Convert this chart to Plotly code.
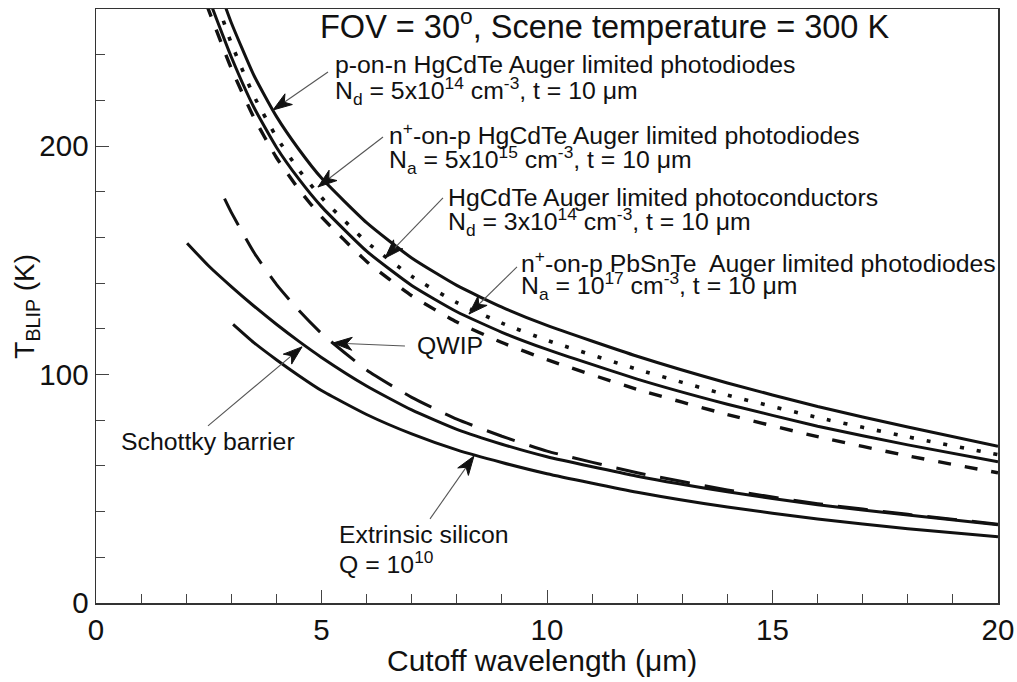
import math
import plotly.graph_objects as go

# ---- data ----
lam_pn = [2.85, 3, 3.5, 4, 4.5, 5, 6, 7, 8, 9, 10, 12, 14, 16, 18, 20]
T_pn = [262, 254, 231, 213, 198.5, 186, 166.5, 151, 139, 129.5, 121.5, 108, 96.3, 86, 77, 68.6]

lam_dot = [2.7, 3, 3.5, 4, 4.5, 5, 6, 7, 8, 9, 10, 12, 14, 16, 18, 20]
T_dot = [262, 245, 222, 204, 189.5, 177.5, 158, 143, 131.5, 122.5, 115, 102.3, 91, 81.2, 72.7, 64.9]

lam_np = [2.55, 3, 3.5, 4, 4.5, 5, 6, 7, 8, 9, 10, 12, 14, 16, 18, 20]
T_np = [262, 239, 217, 199.5, 185.5, 173.5, 154, 139, 127.5, 118.5, 111, 98, 87, 77.4, 69.2, 61.8]

lam_dash = [2.45, 3, 3.5, 4, 4.5, 5, 6, 7, 8, 9, 10, 12, 14, 16, 18, 20]
T_dash = [262, 234, 212.5, 195, 181, 169, 149.5, 134.5, 123, 114, 106.5, 93.5, 82.5, 72.8, 64.4, 57]

lam_qwip = [2.85, 3, 3.5, 4, 4.5, 5, 6, 7, 8, 9, 10, 12, 14, 16, 18, 20]
T_qwip = [177, 171, 153.5, 139.5, 128, 118, 102, 90, 80.5, 73, 66.5, 57, 49.5, 43.5, 38.8, 34.5]

lam_sb = [2.02, 2.5, 3, 3.5, 4, 4.5, 5, 6, 7, 8, 9, 10, 12, 14, 16, 18, 20]
T_sb = [157.5, 147.5, 138.5, 130, 122, 114.5, 107.5, 95, 84.5, 76, 69.5, 64, 55.5, 48.7, 43, 38.5, 34.2]

lam_si = [3.04, 3.5, 4, 4.5, 5, 6, 7, 8, 9, 10, 12, 14, 16, 18, 20]
T_si = [122, 114, 106.5, 99.5, 93, 82.5, 74, 67, 61.5, 56.6, 48.5, 42, 36.8, 32.5, 29]

x_ticks = [0, 5, 10, 15, 20]
y_ticks = [0, 100, 200]

FONT = "Liberation Sans, Arial, Helvetica, sans-serif"
INK = "#111111"

# plot geometry (pixels per data unit) used only for arrow-head shapes
W_PLOT, H_PLOT = 1017 - 96 - 19, 682 - 9 - 79
X_RANGE, Y_RANGE = (0, 20), (0, 260)
SX = W_PLOT / (X_RANGE[1] - X_RANGE[0])
SY = H_PLOT / (Y_RANGE[1] - Y_RANGE[0])

fig = go.Figure()

def curve(x, y, dash, width=3.0):
    fig.add_trace(go.Scatter(
        x=x, y=y, mode="lines",
        line=dict(color=INK, width=width, dash=dash, shape="spline", smoothing=0.5),
        showlegend=False, hoverinfo="skip"))

curve(lam_pn, T_pn, "solid")
curve(lam_dot, T_dot, "4px,13px", 3.6)
curve(lam_np, T_np, "solid")
curve(lam_dash, T_dash, "13px,14px", 3.4)
curve(lam_qwip, T_qwip, "30px,15px", 3.0)
curve(lam_sb, T_sb, "solid")
curve(lam_si, T_si, "solid")

TXT = 24.8
texts = [
    ("FOV = 30<sup>o</sup>, Scene temperature = 300 K", 4.92, 253.5, 32.5),
    ("p-on-n HgCdTe Auger limited photodiodes", 5.255, 235.5, TXT),
    ("N<sub>d</sub> = 5x10<sup>14</sup> cm<sup>-3</sup>, t = 10 \u03bcm", 5.255, 224.1, TXT),
    ("n<sup>+</sup>-on-p HgCdTe Auger limited photodiodes", 6.452, 205.7, TXT),
    ("N<sub>a</sub> = 5x10<sup>15</sup> cm<sup>-3</sup>, t = 10 \u03bcm", 6.452, 193.9, TXT),
    ("HgCdTe Auger limited photoconductors", 7.761, 177.7, TXT),
    ("N<sub>d</sub> = 3x10<sup>14</sup> cm<sup>-3</sup>, t = 10 \u03bcm", 7.761, 166.8, TXT),
    ("n<sup>+</sup>-on-p PbSnTe\u00a0 Auger limited photodiodes", 9.379, 149.3, TXT),
    ("N<sub>a</sub> = 10<sup>17</sup> cm<sup>-3</sup>, t = 10 \u03bcm", 9.379, 138.8, TXT),
    ("QWIP", 7.07, 112.5, TXT),
    ("Schottky barrier", 0.51, 70.5, TXT),
    ("Extrinsic silicon", 5.34, 29.8, TXT),
    ("Q = 10<sup>10</sup>", 5.34, 17.9, TXT),
]
for t, x, y, s in texts:
    fig.add_annotation(text=t, x=x, y=y, xref="x", yref="y", xanchor="left",
                       yanchor="middle", showarrow=False,
                       font=dict(family=FONT, size=s, color=INK))

# arrows: (tip x, tip y, tail x, tail y)
arrows = [
    (3.925, 215.8, 5.144, 232.4),
    (4.922, 182.1, 6.364, 204.0),
    (6.408, 151.0, 7.694, 177.3),
    (8.27, 126.5, 9.335, 147.1),
    (5.255, 113.8, 6.85, 112.5),
    (4.568, 112.1, 2.483, 77.5),
    (8.38, 64.3, 7.406, 36.8),
]
HEAD_LEN, HEAD_HALF = 19.0, 6.5
for x, y, ax, ay in arrows:
    fig.add_shape(type="line", x0=ax, y0=ay, x1=x, y1=y, xref="x", yref="y",
                  line=dict(color="#555555", width=1.1))
    dxp, dyp = (ax - x) * SX, (ay - y) * SY
    L = math.hypot(dxp, dyp)
    ux, uy = dxp / L, dyp / L
    nx, ny = -uy, ux
    bx, by = HEAD_LEN * ux, HEAD_LEN * uy
    p1 = (x + (bx + HEAD_HALF * nx) / SX, y + (by + HEAD_HALF * ny) / SY)
    p2 = (x + (bx - HEAD_HALF * nx) / SX, y + (by - HEAD_HALF * ny) / SY)
    pn = (x + (0.72 * bx) / SX, y + (0.72 * by) / SY)
    path = f"M {x},{y} L {p1[0]},{p1[1]} L {pn[0]},{pn[1]} L {p2[0]},{p2[1]} Z"
    fig.add_shape(type="path", path=path, xref="x", yref="y",
                  fillcolor=INK, line=dict(color=INK, width=1))

# axis titles
fig.add_annotation(text="Cutoff wavelength (\u03bcm)", x=0.495, y=-0.096, xref="paper", yref="paper",
                   xanchor="center", yanchor="middle", showarrow=False,
                   font=dict(family=FONT, size=30, color=INK))
fig.add_annotation(text="T<sub>BLIP</sub> (K)", x=-0.078, y=0.5, xref="paper", yref="paper",
                   xanchor="center", yanchor="middle", showarrow=False, textangle=-90,
                   font=dict(family=FONT, size=28, color=INK))

axis_common = dict(showgrid=False, zeroline=False, showline=True, linecolor="#333333",
                   linewidth=1.5, mirror=True, ticks="inside", tickcolor="#444444",
                   tickwidth=1, automargin=False,
                   tickfont=dict(family=FONT, size=29.5, color=INK))

fig.update_xaxes(range=list(X_RANGE), tickvals=x_ticks, ticklen=13,
                 minor=dict(dtick=1, ticklen=9, ticks="inside", tickcolor="#444444", tickwidth=1),
                 **axis_common)
fig.update_yaxes(range=list(Y_RANGE), tickvals=y_ticks, ticklen=13,
                 minor=dict(dtick=20, ticklen=9, ticks="inside", tickcolor="#444444", tickwidth=1),
                 **axis_common)

fig.update_layout(width=1017, height=682, margin=dict(l=96, r=19, t=9, b=79, autoexpand=False),
                  paper_bgcolor="white", plot_bgcolor="white", showlegend=False)

fig.write_html("out.html", config={"displayModeBar": False, "staticPlot": True},
               post_script="document.body.style.margin='0';document.body.style.overflow='hidden';")
